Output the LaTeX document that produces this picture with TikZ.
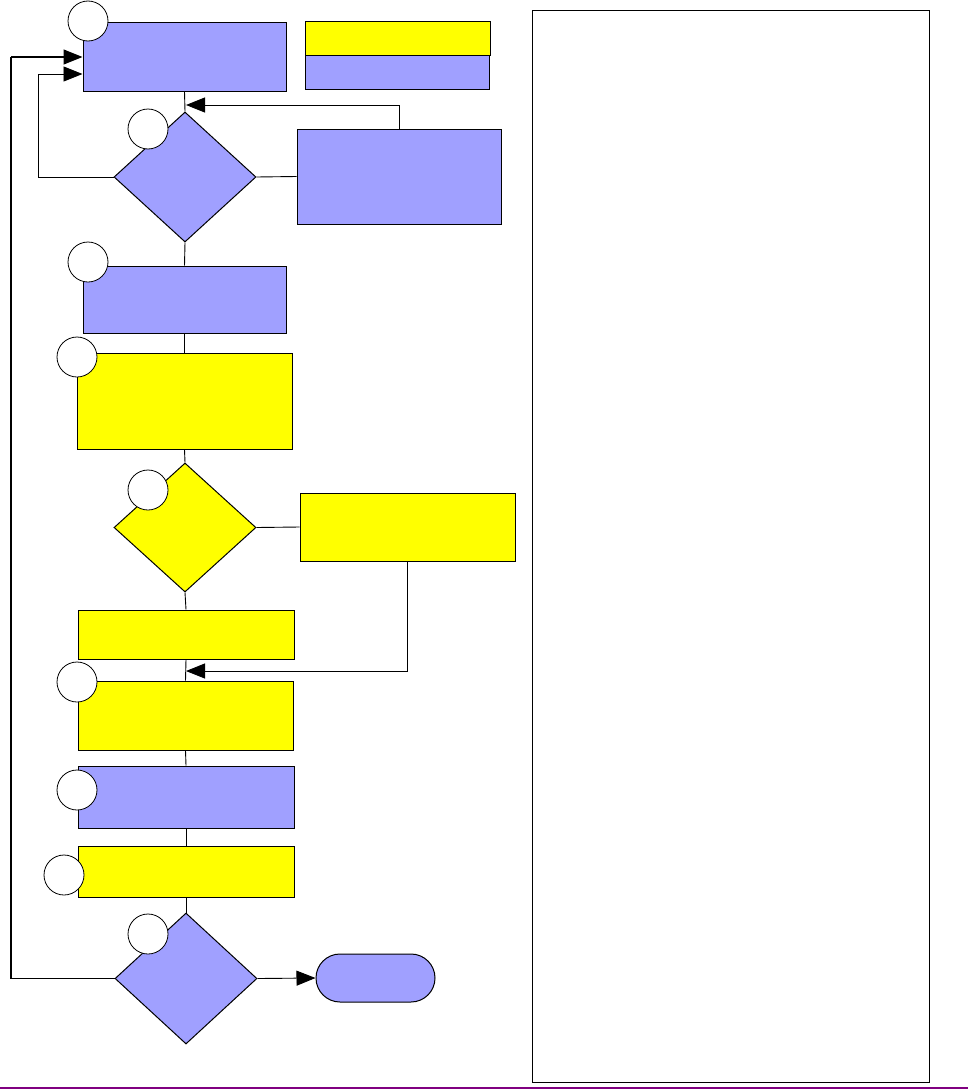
\documentclass[tikz,border=0pt]{standalone}
\usetikzlibrary{shapes.geometric,arrows.meta}
\definecolor{fblue}{HTML}{A0A0FF}
\definecolor{fyellow}{HTML}{FFFF00}
\definecolor{fpurple}{HTML}{800080}
\begin{document}
\begin{tikzpicture}[x=1pt,y=-1pt,
  box/.style={draw=black,line width=1pt,inner sep=0pt,rectangle},
  bluebox/.style={box,fill=fblue},
  yelbox/.style={box,fill=fyellow},
  dia/.style={draw=black,line width=1pt,inner sep=0pt,diamond},
  numcirc/.style={draw=black,line width=0.8pt,fill=white,circle,inner sep=0pt,minimum size=40pt},
  conn/.style={draw=black,line width=0.9pt},
  arr/.style={conn,-{Triangle[length=19pt,width=15pt]}}]
\useasboundingbox (0,0) rectangle (968,1092);
\fill[white] (0,0) rectangle (968,1092);
% main boxes
\node[bluebox,minimum width=203pt,minimum height=69pt] (A) at (184.5,56.5) {};
\node[yelbox,minimum width=185pt,minimum height=34pt] (L1) at (397.5,38) {};
\node[bluebox,minimum width=184pt,minimum height=34pt] (L2) at (397,72) {};
\node[dia,fill=fblue,minimum width=142pt,minimum height=130pt] (D1) at (185,177) {};
\node[bluebox,minimum width=204pt,minimum height=95pt] (B) at (399,176.5) {};
\node[bluebox,minimum width=203pt,minimum height=67pt] (C) at (184.5,299.5) {};
\node[yelbox,minimum width=215pt,minimum height=96pt] (E) at (184.5,401) {};
\node[dia,fill=fyellow,minimum width=142pt,minimum height=129pt] (D2) at (185,527.5) {};
\node[yelbox,minimum width=215pt,minimum height=68pt] (F) at (407.5,527) {};
\node[yelbox,minimum width=216pt,minimum height=49pt] (G) at (186,634.5) {};
\node[yelbox,minimum width=215pt,minimum height=69pt] (H) at (185.5,715.5) {};
\node[bluebox,minimum width=216pt,minimum height=62pt] (I) at (186,797) {};
\node[yelbox,minimum width=216pt,minimum height=51pt] (J) at (186,871.5) {};
\node[dia,fill=fblue,minimum width=142pt,minimum height=131pt] (D3) at (186,978.5) {};
\node[bluebox,rounded corners=24pt,minimum width=119pt,minimum height=48pt] (T) at (375.5,978) {};
% right panel
\node[draw=black,line width=1pt,inner sep=0pt,minimum width=397pt,minimum height=1072pt] (P) at (730.5,546) {};
% helper coordinates
\coordinate (j1) at (186,105);
\coordinate (j2) at (186,671);
\coordinate (l1) at (38,74);
\coordinate (l2) at (11,57);
% connectors
\draw[conn] (A.south) -- (D1.north);
\draw[conn] (D1.east) -- (B.west);
\draw[arr] (B.north) |- (j1);
\draw[conn] (D1.west) -| (l1);
\draw[arr] (l1) -- (A.west |- l1);
\draw[conn] (D1.south) -- (C.north);
\draw[conn] (C.south) -- (E.north);
\draw[conn] (E.south) -- (D2.north);
\draw[conn] (D2.east) -- (F.west);
\draw[arr] (F.south) |- (j2);
\draw[conn] (D2.south) -- (G.north);
\draw[conn] (G.south) -- (H.north);
\draw[conn] (H.south) -- (I.north);
\draw[conn] (I.south) -- (J.north);
\draw[conn] (J.south) -- (D3.north);
\draw[arr] (D3.east) -- (T.west);
\draw[conn,line width=1.2pt] (D3.west) -| (l2);
\draw[arr,line width=1.2pt] (l2) -- (A.west |- l2);
% number circles
\node[numcirc] (c1) at (88,21) {};
\node[numcirc] (c2) at (148,129) {};
\node[numcirc] (c3) at (88,262) {};
\node[numcirc] (c4) at (77,357) {};
\node[numcirc] (c5) at (148,490) {};
\node[numcirc] (c6) at (77,682) {};
\node[numcirc] (c7) at (77,790) {};
\node[numcirc] (c8) at (64,875) {};
\node[numcirc] (c9) at (148,934) {};
% bottom rule
\coordinate (r1) at (0,1088);
\coordinate (r2) at (968,1088);
\draw[fpurple,line width=2.5pt] (r1) -- (r2);
\end{tikzpicture}
\end{document}
